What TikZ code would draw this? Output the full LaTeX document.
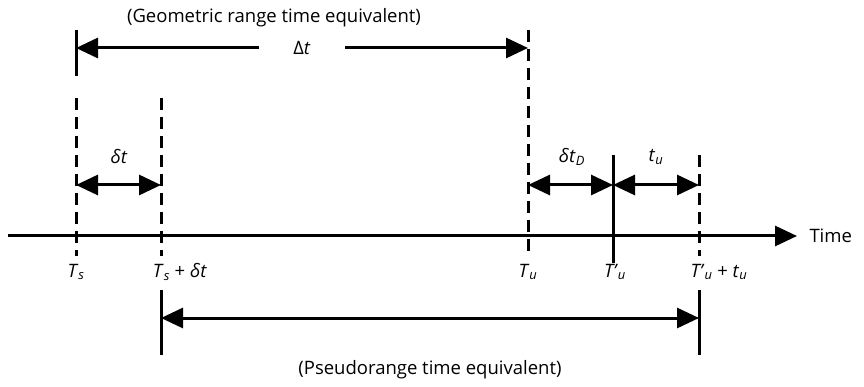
\documentclass[tikz,border=0pt]{standalone}
\usepackage{fontspec}
\setmainfont{Open Sans}
\usetikzlibrary{arrows.meta}
\newcommand\vsub[2]{\textit{#1}\textsubscript{\textit{#2}}}
\newcommand\vpr[2]{\textit{#1’}\textsubscript{\textit{#2}}}
\begin{document}
\begin{tikzpicture}[x=1pt,y=-1pt, line width=3pt,
  tipend/.style={-{Triangle[length=22pt,width=20pt]}},
  both/.style={{Triangle[length=22pt,width=20pt]}-{Triangle[length=22pt,width=20pt]}},
  dsh/.style={dash pattern=on 12pt off 7pt},
  lbl/.style={font=\fontsize{18.5}{22}\selectfont, inner sep=0pt}]
\useasboundingbox (0,0) rectangle (864,387);
% coordinates
\coordinate (tsTopA) at (76,30);
\coordinate (tsTopB) at (76,76);
\coordinate (tsA) at (76,98);
\coordinate (tsB) at (76,256);
\coordinate (tdA) at (161,98);
\coordinate (tdB) at (161,256);
\coordinate (tdC) at (161,290);
\coordinate (tdD) at (161,355);
\coordinate (tuA) at (528,30);
\coordinate (tuB) at (528,256);
\coordinate (tpA) at (613,155);
\coordinate (tpB) at (613,263);
\coordinate (ttA) at (699,155);
\coordinate (ttB) at (699,256);
\coordinate (ttC) at (699,290);
\coordinate (ttD) at (699,355);
\coordinate (axL) at (8,236);
\coordinate (axR) at (797,236);
\coordinate (dTL) at (76,48);
\coordinate (dTR) at (528,48);
\coordinate (dsL) at (76,185);
\coordinate (dsR) at (161,185);
\coordinate (ddL) at (528,185);
\coordinate (ddR) at (613,185);
\coordinate (tuL) at (613,185);
\coordinate (tuR) at (699,185);
\coordinate (prL) at (161,318);
\coordinate (prR) at (699,318);
% vertical lines
\draw (tsTopA) -- (tsTopB);
\draw[dsh] (tsA) -- (tsB);
\draw[dsh] (tdA) -- (tdB);
\draw (tdC) -- (tdD);
\draw[dsh] (tuA) -- (tuB);
\draw (tpA) -- (tpB);
\draw[dsh] (ttA) -- (ttB);
\draw (ttC) -- (ttD);
% axis
\draw[tipend] (axL) -- (axR);
\node[lbl, anchor=west] (time) at (808,236) {Time};
% arrows
\draw[both] (dTL) -- node[lbl, fill=white, inner xsep=34pt, inner ysep=3pt] (dlt) {Δ\textit{t}} (dTR);
\draw[both] (dsL) -- (dsR);
\draw[both] (ddL) -- (ddR);
\draw[both] (tuL) -- (tuR);
\draw[both] (prL) -- (prR);
% labels
\node[lbl] (geo) at (274,18) {(Geometric range time equivalent)};
\node[lbl] (pse) at (430,370) {(Pseudorange time equivalent)};
\node[lbl] (ldt) at (119,157) {\textit{δt}};
\node[lbl] (ldd) at (572,157) {\textit{δt}\textsubscript{\textit{D}}};
\node[lbl] (ltu) at (656,157) {\vsub{t}{u}};
\node[lbl] (lts) at (76,272) {\vsub{T}{s}};
\node[lbl] (ltd) at (180,272) {\vsub{T}{s} + \textit{δt}};
\node[lbl] (ltuu) at (528,272) {\vsub{T}{u}};
\node[lbl] (ltp) at (615,272) {\vpr{T}{u}};
\node[lbl] (ltt) at (719,272) {\vpr{T}{u} + \vsub{t}{u}};
\end{tikzpicture}
\end{document}
